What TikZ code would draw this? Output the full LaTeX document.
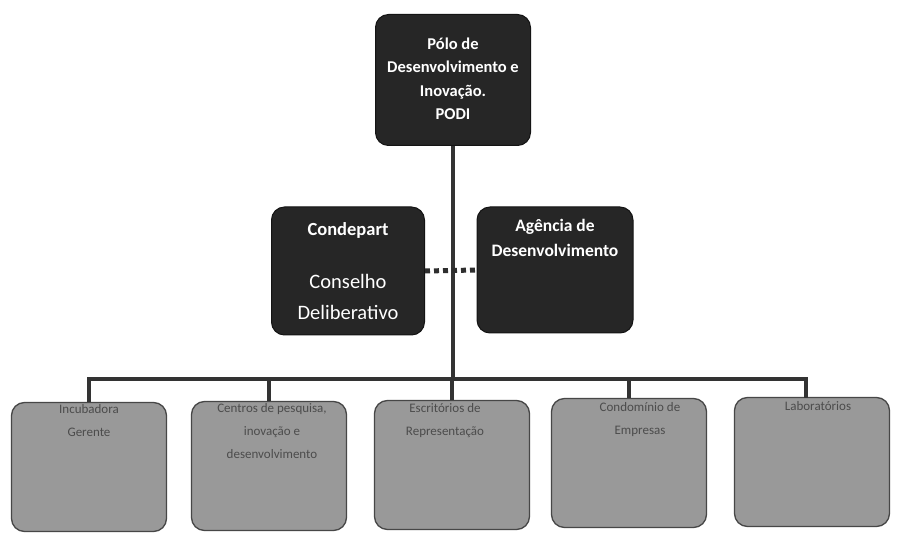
\documentclass[tikz,border=0pt]{standalone}
\usepackage{fontspec}
\setmainfont{Carlito}
\begin{document}
\begin{tikzpicture}[x=1pt,y=-1pt,
  darkbox/.style={draw=black!92, fill=black!85, rounded corners=13pt, line width=1pt,
    minimum width=155pt, minimum height=129pt, inner sep=0pt},
  greybox/.style={draw=black!72, fill=black!40, rounded corners=13pt, line width=1.3pt,
    minimum width=155pt, minimum height=129pt, inner sep=0pt},
  headtext/.style={text=white, font=\bfseries\fontsize{16.5}{23.5}\selectfont, align=center, inner sep=0pt},
  bodytext/.style={text=white, font=\fontsize{20.5}{31}\selectfont, align=center, inner sep=0pt},
  smalltext/.style={text=black!70, font=\fontsize{13}{23}\selectfont, align=center, inner sep=0pt, anchor=north},
  link/.style={draw=black!80, line width=4pt},
  dotlink/.style={draw=black!82, line width=5pt, dash pattern=on 5pt off 4pt}]
\useasboundingbox (0,0) rectangle (906,540);
\fill[white] (0,0) rectangle (906,540);

% top level
\node[darkbox, minimum height=131pt] (podi) at (453,80) {};
\node[headtext] (podit) at (453,79) {Pólo de\\Desenvolvimento e\\Inovação.\\PODI};

% middle level
\node[darkbox, minimum width=153pt, minimum height=128pt] (cond) at (348,271) {};
\node[headtext, font=\bfseries\fontsize{18.5}{24}\selectfont] (condt) at (348,230) {Condepart};
\node[bodytext] (condb) at (348,297) {Conselho\\Deliberativo};

\node[darkbox, minimum width=156pt, minimum height=126pt] (agen) at (555,270) {};
\node[headtext, font=\bfseries\fontsize{17.5}{25}\selectfont, anchor=north] (agent) at (555,219) {Agência de\\Desenvolvimento};

% bottom level
\node[greybox] (b1) at (89,467) {};
\node[greybox] (b2) at (269,466) {};
\node[greybox] (b3) at (452,465) {};
\node[greybox] (b4) at (629,463) {};
\node[greybox] (b5) at (812,462) {};

\node[smalltext] (t1) at (89,404) {Incubadora\\Gerente};
\node[smalltext] (t2) at (272,403) {Centros de pesquisa,\\inovação e\\desenvolvimento};
\node[smalltext] (t3) at (445,403) {Escritórios de\\Representação};
\node[smalltext] (t4) at (640,402) {Condomínio de\\Empresas};
\node[smalltext] (t5) at (818,401) {Laboratórios};

% connectors
\coordinate (bus) at (453,379);
\coordinate (d5) at (806,398);
\draw[link] (podi.south) -- (bus);
\draw[link, line join=miter] (b1.north) |- (bus) -| (d5);
\draw[link] (b2.north) -- (b2.north |- bus);
\draw[link] (b3.north) -- (b3.north |- bus);
\draw[link] (b4.north) -- (b4.north |- bus);
\draw[dotlink] (cond.east) -- (agen.west);
\end{tikzpicture}
\end{document}
